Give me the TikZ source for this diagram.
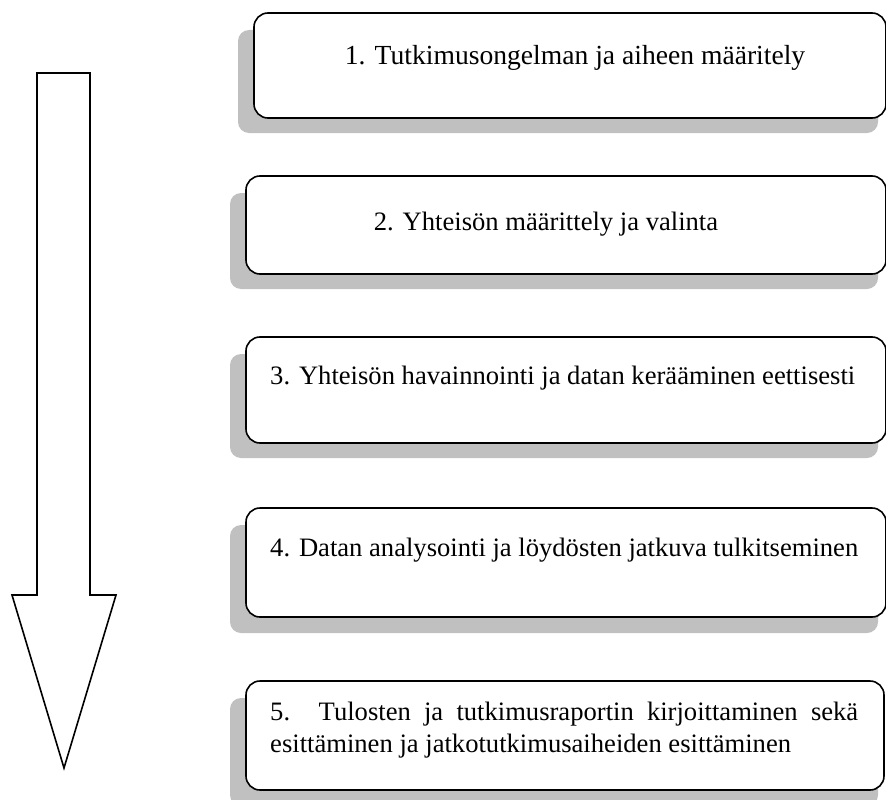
\documentclass[tikz,border=0pt]{standalone}
\usepackage{fontspec}
\setmainfont{Liberation Serif}
\begin{document}
\begin{tikzpicture}[x=1pt,y=-1pt,
  shadowbox/.style={fill=shadowgray,draw=none,rounded corners=11pt},
  stepframe/.style={draw=black,line width=1.6pt,fill=white,rounded corners=14pt},
  steptext/.style={inner sep=0pt,font=\fontsize{26.6}{33}\selectfont},
  arrowline/.style={draw=black,line width=1.6pt,fill=white,line join=miter}]
\definecolor{shadowgray}{HTML}{C0C0C0}
\useasboundingbox (0,0) rectangle (886,800);

% downward process arrow
\draw[arrowline] (37,73) -- (90,73) -- (90,595) -- (116,595) -- (64,768)
  -- (12,595) -- (37,595) -- cycle;

% step 1
\path[shadowbox] (238,30) rectangle (878,133);
\path[stepframe] (254,13) rectangle (886,118);
\node[steptext,anchor=base] (s1) at (575,65) {\fontsize{27.6}{33}\selectfont 1. Tutkimusongelman ja aiheen määritely};

% step 2
\path[shadowbox] (230,193) rectangle (878,289);
\path[stepframe] (246,176) rectangle (886,274);
\node[steptext,anchor=base] (s2) at (546,230) {2. Yhteisön määrittely ja valinta};

% step 3
\path[shadowbox] (230,354) rectangle (878,458);
\path[stepframe] (246,337) rectangle (886,443);
\node[steptext,anchor=base west] (s3) at (270,384) {3. Yhteisön havainnointi ja datan kerääminen eettisesti};

% step 4
\path[shadowbox] (230,525) rectangle (878,633);
\path[stepframe] (246,508) rectangle (886,617);
\node[steptext,anchor=base west] (s4) at (270,556) {4. Datan analysointi ja löydösten jatkuva tulkitseminen};

% step 5
\path[shadowbox] (230,698) rectangle (878,806);
\path[stepframe] (246,681) rectangle (884,790);
\node[steptext,anchor=base west] (s5a) at (270,720) {\makebox[588pt][s]{5. Tulosten ja tutkimusraportin kirjoittaminen sekä}};
\node[steptext,anchor=base west] (s5b) at (270,752) {esittäminen ja jatkotutkimusaiheiden esittäminen};
\end{tikzpicture}
\end{document}
